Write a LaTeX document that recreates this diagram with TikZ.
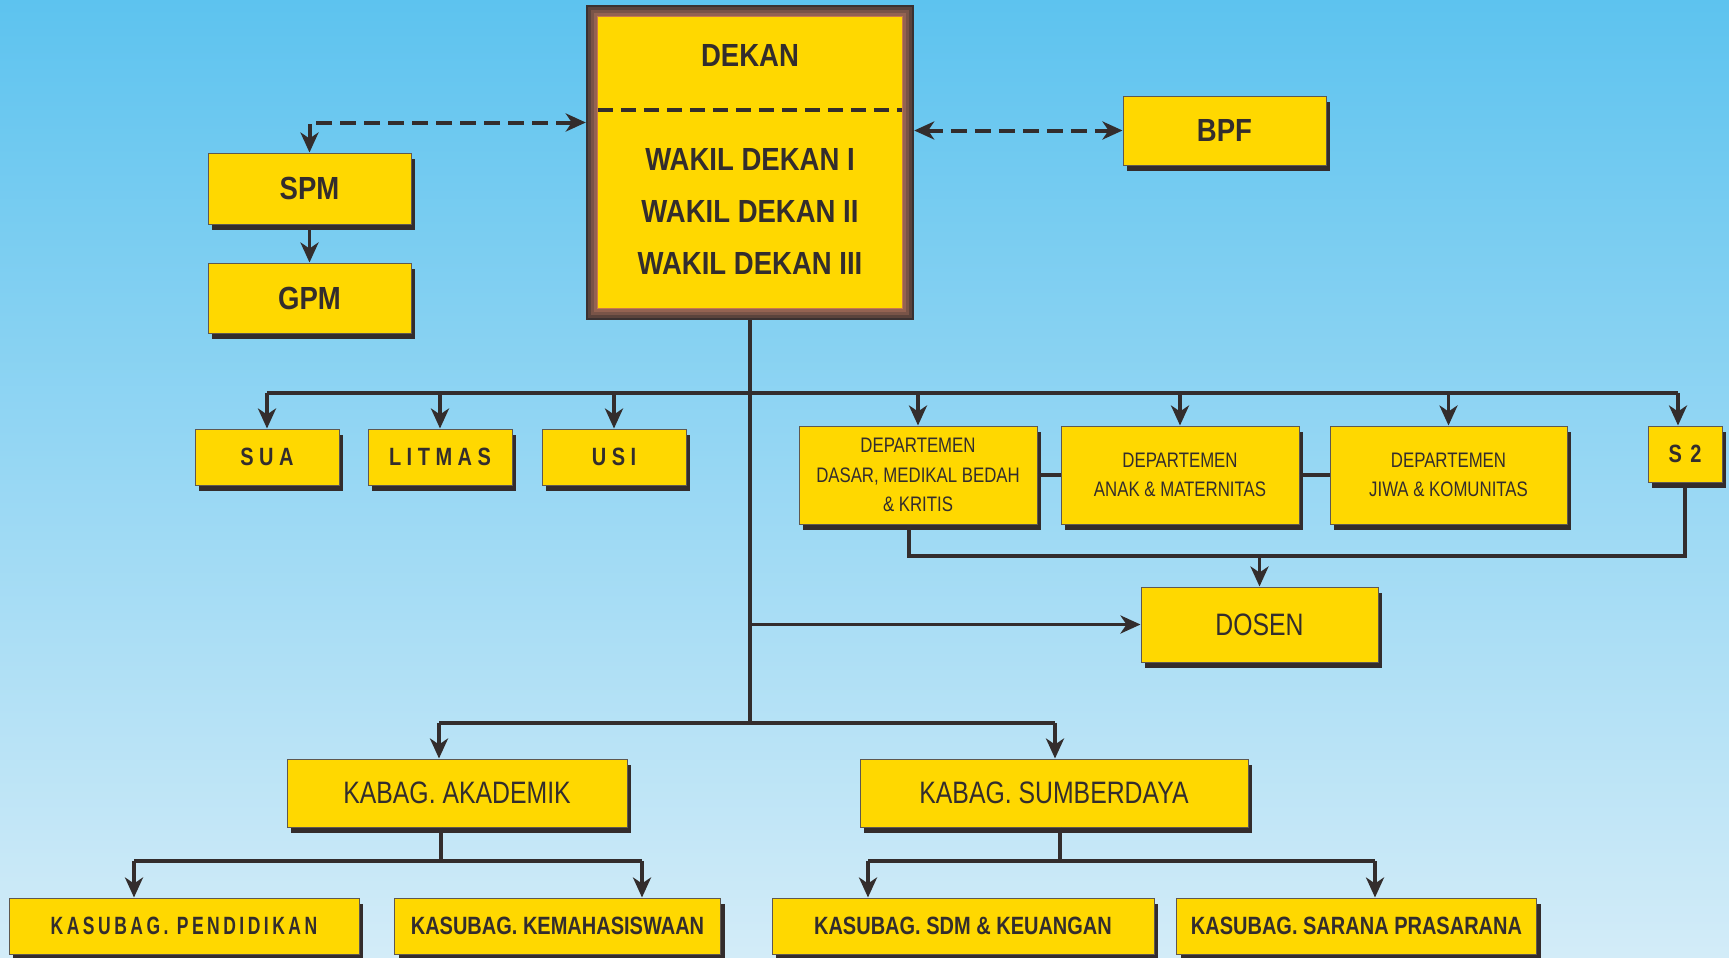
\documentclass[tikz,border=0pt]{standalone}
\usepackage{fontspec}
\usetikzlibrary{arrows.meta,shadows}

\newfontfamily\headfont{Liberation Sans}[FakeStretch=0.86]
\newfontfamily\narrowfont{Liberation Sans}[FakeStretch=0.80]
\newfontfamily\trackfont{Liberation Sans}[FakeStretch=0.80,LetterSpace=22]
\newfontfamily\widetrackfont{Liberation Sans}[FakeStretch=0.70,LetterSpace=14]

\definecolor{skytop}{HTML}{5DC3EF}
\definecolor{skybottom}{HTML}{D3ECF8}
\definecolor{boxyellow}{HTML}{FFD800}
\definecolor{inkc}{HTML}{332D2D}
\definecolor{boxline}{HTML}{5F5850}
\definecolor{shadowc}{HTML}{332C2C}
\definecolor{framedark}{HTML}{3A3131}
\definecolor{framebrown}{HTML}{946352}
\definecolor{frameedge}{HTML}{C97A4C}

\tikzset{
  unit/.style={draw=boxline, line width=1pt, fill=boxyellow, text=inkc, inner sep=0pt,
    drop shadow={shadow xshift=4pt, shadow yshift=-6pt, opacity=1, fill=shadowc}},
  headtext/.style={text=inkc, inner sep=0pt, font=\headfont\bfseries\fontsize{32}{52}\selectfont},
  conn/.style={draw=inkc, line width=3.5pt},
  feed/.style={conn, -{Stealth[length=20pt,width=18pt,inset=6pt]}},
  dashlink/.style={draw=inkc, line width=4pt, dash pattern=on 16pt off 8pt,
    {Stealth[length=20pt,width=18pt,inset=6pt]}-{Stealth[length=20pt,width=18pt,inset=6pt]}}
}

\begin{document}
\begin{tikzpicture}[x=1pt,y=-1pt]
  \useasboundingbox (0,0) rectangle (1729,958);
  \shade[top color=skytop, bottom color=skybottom] (0,0) rectangle (1729,958);

  % pimpinan
  \node[minimum width=328pt, minimum height=315pt, inner sep=0pt] (dekan) at (750,162.5) {};
  \foreach \d/\p in {0/100,2/65,5/30,8/0}
    \fill[framedark!\p!framebrown] ([shift={(\d,\d)}]dekan.north west) rectangle ([shift={(-\d,-\d)}]dekan.south east);
  \filldraw[fill=boxyellow, draw=frameedge, line width=1pt] ([shift={(12,12)}]dekan.north west) rectangle ([shift={(-12,-12)}]dekan.south east);
  \draw[inkc, line width=4pt, dash pattern=on 15pt off 8pt] ([shift={(12,105)}]dekan.north west) -- ([shift={(-12,105)}]dekan.north east);
  \node[headtext] (dekantitle) at (750,55) {DEKAN};
  \node[headtext, align=center] (wakil) at (750,211) {WAKIL DEKAN I\\WAKIL DEKAN II\\WAKIL DEKAN III};

  \node[unit, minimum width=203pt, minimum height=71pt, font=\headfont\bfseries\fontsize{32}{38}\selectfont] (spm) at (309.5,188.5) {SPM};
  \node[unit, minimum width=203pt, minimum height=70pt, font=\headfont\bfseries\fontsize{32}{38}\selectfont] (gpm) at (309.5,298) {GPM};
  \node[unit, minimum width=203pt, minimum height=69pt, font=\headfont\bfseries\fontsize{32}{38}\selectfont] (bpf) at (1224.5,130.5) {BPF};

  \node[unit, minimum width=144pt, minimum height=56pt, font=\trackfont\bfseries\fontsize{25}{30}\selectfont] (sua) at (267,457) {SUA};
  \node[unit, minimum width=144pt, minimum height=56pt, font=\trackfont\bfseries\fontsize{25}{30}\selectfont] (litmas) at (440,457) {LITMAS};
  \node[unit, minimum width=144pt, minimum height=56pt, font=\trackfont\bfseries\fontsize{25}{30}\selectfont] (usi) at (614,457) {USI};

  \node[unit, minimum width=238pt, minimum height=98pt, align=center, font=\narrowfont\fontsize{21}{29.5}\selectfont] (dep1) at (918,475) {DEPARTEMEN\\DASAR, MEDIKAL BEDAH\\\& KRITIS};
  \node[unit, minimum width=238pt, minimum height=98pt, align=center, font=\narrowfont\fontsize{21}{29.5}\selectfont] (dep2) at (1180,475) {DEPARTEMEN\\ANAK \& MATERNITAS};
  \node[unit, minimum width=237pt, minimum height=98pt, align=center, font=\narrowfont\fontsize{21}{29.5}\selectfont] (dep3) at (1448.5,475) {DEPARTEMEN\\JIWA \& KOMUNITAS};
  \node[unit, minimum width=74pt, minimum height=56pt, font=\narrowfont\bfseries\fontsize{25}{30}\selectfont] (s2) at (1685,454) {S\,\,2};

  \node[unit, minimum width=237pt, minimum height=75pt, font=\narrowfont\fontsize{31}{36}\selectfont] (dosen) at (1259.5,624.5) {DOSEN};

  \node[unit, minimum width=340pt, minimum height=68pt, font=\narrowfont\fontsize{31}{36}\selectfont] (akademik) at (457,793) {KABAG. AKADEMIK};
  \node[unit, minimum width=388pt, minimum height=68pt, font=\narrowfont\fontsize{31}{36}\selectfont] (sumberdaya) at (1054,793) {KABAG. SUMBERDAYA};

  \node[unit, minimum width=350pt, minimum height=56pt, font=\widetrackfont\bfseries\fontsize{25}{30}\selectfont] (pendidikan) at (184,926) {KASUBAG. PENDIDIKAN};
  \node[unit, minimum width=326pt, minimum height=56pt, font=\narrowfont\bfseries\fontsize{25}{30}\selectfont] (kemahasiswaan) at (557.5,926) {KASUBAG. KEMAHASISWAAN};
  \node[unit, minimum width=382pt, minimum height=56pt, font=\narrowfont\bfseries\fontsize{25}{30}\selectfont] (sdm) at (963,926) {KASUBAG. SDM \& KEUANGAN};
  \node[unit, minimum width=360pt, minimum height=56pt, font=\narrowfont\bfseries\fontsize{25}{30}\selectfont] (sarana) at (1356.5,926) {KASUBAG. SARANA PRASARANA};

  % koordinasi
  \draw[dashlink] (spm.north) |- ([yshift=40]dekan.west);
  \draw[dashlink] (dekan.east |- bpf.west) -- (bpf.west);
  \draw[feed] (spm.south) -- (gpm.north);

  % garis komando
  \coordinate (bus) at (750,393);
  \coordinate (split) at (750,723);
  \draw[conn] (dekan.south) -- (split);
  \draw[conn] (sua.north |- bus) -- (1678,393);
  \foreach \n in {sua,litmas,usi,dep1,dep2,dep3}
    \draw[feed] (\n.north |- bus) -- (\n.north);
  \draw[feed] (1678,393) -- ([xshift=-7]s2.north);

  \draw[conn, line width=4.5pt] (dep1.east) -- (dep2.west);
  \draw[conn, line width=4.5pt] (dep2.east) -- (dep3.west);
  \draw[conn, line width=4pt] ([xshift=-9]dep1.south) -- ++(0,31) -| (s2.south);
  \draw[feed] ([yshift=32]dosen.north) -- (dosen.north);
  \draw[feed] (dekan.south |- dosen.west) -- (dosen.west);

  \coordinate (akin) at (439,723);
  \coordinate (sdin) at (1055,723);
  \draw[conn, line width=4pt] (akin) -- (sdin);
  \draw[feed] (akin) -- (akin |- akademik.north);
  \draw[feed] (sdin) -- (sdin |- sumberdaya.north);

  \coordinate (pdin) at (134,861);
  \coordinate (kmin) at (642,861);
  \coordinate (sdmin) at (868,861);
  \coordinate (srin) at (1375,861);
  \draw[conn] ([xshift=-16]akademik.south) -- ++(0,34);
  \draw[conn, line width=4pt] (pdin) -- (kmin);
  \draw[conn] ([xshift=6]sumberdaya.south) -- ++(0,34);
  \draw[conn, line width=4pt] (sdmin) -- (srin);
  \draw[feed] (pdin) -- (pdin |- pendidikan.north);
  \draw[feed] (kmin) -- (kmin |- kemahasiswaan.north);
  \draw[feed] (sdmin) -- (sdmin |- sdm.north);
  \draw[feed] (srin) -- (srin |- sarana.north);
\end{tikzpicture}
\end{document}
